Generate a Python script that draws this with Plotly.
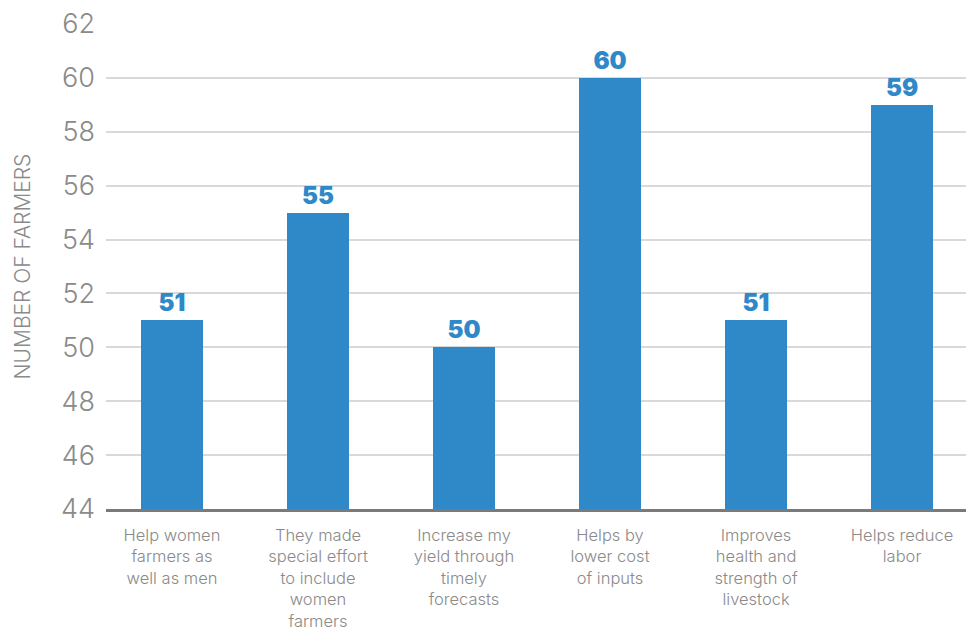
import plotly.graph_objects as go

categories = [
    "Help women<br>farmers as<br>well as men",
    "They made<br>special effort<br>to include<br>women<br>farmers",
    "Increase my<br>yield through<br>timely<br>forecasts",
    "Helps by<br>lower cost<br>of inputs",
    "Improves<br>health and<br>strength of<br>livestock",
    "Helps reduce<br>labor",
]
values = [51, 55, 50, 60, 51, 59]
y_ticks = [44, 46, 48, 50, 52, 54, 56, 58, 60, 62]

blue = "#2F88C8"
gray = "#8a8a8a"

fig = go.Figure(go.Bar(
    x=list(range(len(categories))),
    y=values,
    width=0.43,
    marker=dict(color=blue, line=dict(width=0)),
    text=[str(v) for v in values],
    textposition="outside",
    cliponaxis=False,
    textfont=dict(family="Inter, Lato, sans-serif", size=24, color=blue, weight=900),
))

fig.update_layout(
    width=966, height=636,
    margin=dict(l=106, r=0, t=24, b=127),
    plot_bgcolor="white", paper_bgcolor="white",
    showlegend=False,
    bargap=0,
    xaxis=dict(
        range=[-0.452, 5.438],
        tickmode="array",
        tickvals=list(range(len(categories))),
        ticktext=categories,
        tickfont=dict(family="Inter, Lato, sans-serif", size=16.5, color=gray, weight=300),
        showgrid=False,
        showline=True, linecolor="#7a7a7a", linewidth=3,
        ticks="", ticklen=0, ticklabelstandoff=9,
        zeroline=False, automargin=False,
    ),
    yaxis=dict(
        range=[44, 62],
        tickvals=y_ticks,
        tickfont=dict(family="Inter, Lato, sans-serif", size=27, color=gray, weight=300),
        showgrid=True, gridcolor="#d9d9d9", gridwidth=1.5,
        zeroline=False, automargin=False,
        ticks="", ticklabelstandoff=10,
        title=dict(text="NUMBER OF FARMERS", standoff=24,
                   font=dict(family="Inter, Lato, sans-serif", size=21, color=gray, weight=300)),
    ),
)

fig.write_html("out.html")
